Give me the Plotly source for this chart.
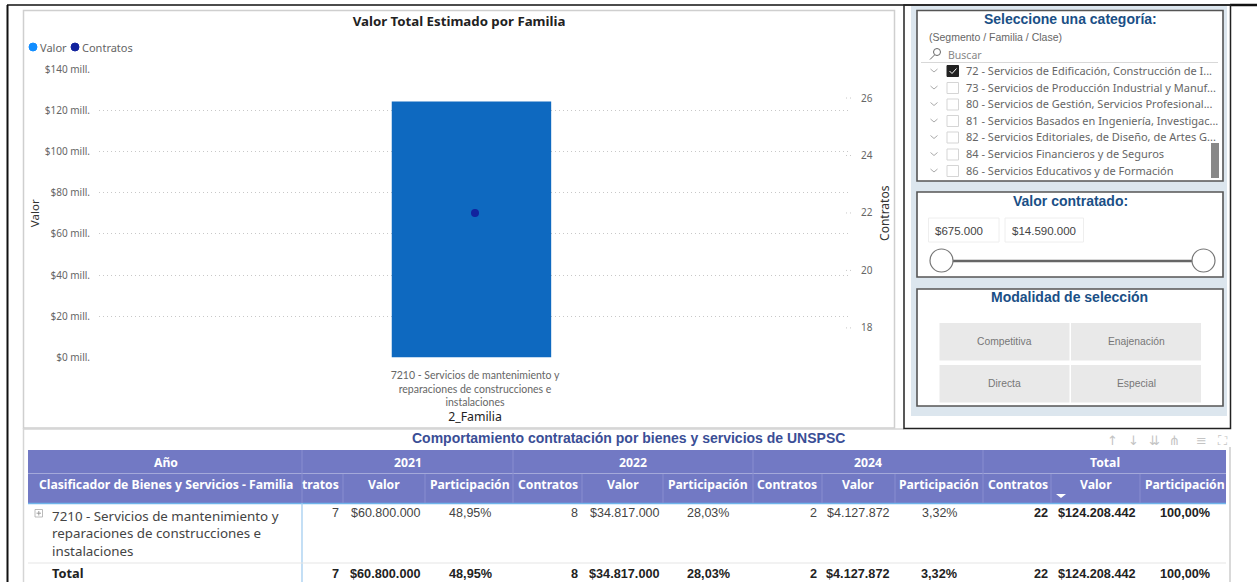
import plotly.graph_objects as go

# ---------- data ----------
familia_categoria = ["7210 - Servicios de mantenimiento y<br>reparaciones de construcciones e<br>instalaciones"]
valor_total_mill = [124.208442]
contratos_total = [22]
ticks_contratos = [18, 20, 22, 24, 26]

anios = ["2021", "2022", "2024", "Total"]
fila_familia = "7210 - Servicios de mantenimiento y<br>reparaciones de construcciones e<br>instalaciones"
contratos = ["7", "8", "2", "22"]
valores = ["$60.800.000", "$34.817.000", "$4.127.872", "$124.208.442"]
participacion = ["48,95%", "28,03%", "3,32%", "100,00%"]

categorias_slicer = [
    "72 - Servicios de Edificación, Construcción de I...",
    "73 - Servicios de Producción Industrial y Manuf...",
    "80 - Servicios de Gestión, Servicios Profesional...",
    "81 - Servicios Basados en Ingeniería, Investigac...",
    "82 - Servicios Editoriales, de Diseño, de Artes G...",
    "84 - Servicios Financieros y de Seguros",
    "86 - Servicios Educativos y de Formación",
]
modalidades = ["Competitiva", "Enajenación", "Directa", "Especial"]
rango_valor = ["$675.000", "$14.590.000"]

# ---------- layout helpers ----------
W, H = 1257, 582
UI = "Noto Sans"
AR = "Liberation Sans"
fx = lambda x: x / W
fy = lambda y: 1 - y / H
shapes, notes = [], []


def rect(x0, y0, x1, y1, fill=None, line=None, lw=1):
    shapes.append(dict(type="rect", xref="paper", yref="paper", x0=fx(x0), x1=fx(x1), y0=fy(y0), y1=fy(y1),
                       fillcolor=fill or "rgba(0,0,0,0)", line=dict(color=line or "rgba(0,0,0,0)", width=lw if line else 0)))


def seg(x0, y0, x1, y1, color, lw=1):
    shapes.append(dict(type="line", xref="paper", yref="paper", x0=fx(x0), x1=fx(x1), y0=fy(y0), y1=fy(y1),
                       line=dict(color=color, width=lw)))


def circ(cx, cy, r, fill, line, lw=1):
    shapes.append(dict(type="circle", xref="paper", yref="paper", x0=fx(cx - r), x1=fx(cx + r), y0=fy(cy + r), y1=fy(cy - r),
                       fillcolor=fill, line=dict(color=line, width=lw)))


def text(x, y, s, size=11, color="#444", font=UI, anchor="left", bold=False, angle=0):
    xa = "center" if anchor == "middle" else anchor
    notes.append(dict(xref="paper", yref="paper", x=fx(x), y=fy(y), text=f"<b>{s}</b>" if bold else s, showarrow=False,
                      xanchor=xa, yanchor="middle", align=xa,
                      font=dict(family=font, size=size, color=color), borderpad=0, borderwidth=0, textangle=angle))


# ---------- frames ----------
seg(7.5, 5, 7.5, 582, "#111", 2)
seg(7, 5, 1230, 5, "#111", 1.5)
seg(1230, 5, 1257, 5, "#111", 2.5)
rect(23.5, 10.5, 894.5, 428, None, "#cfcfcf", 1.5)
seg(23.5, 428, 23.5, 582, "#d5d5d5", 1.5)
seg(23.5, 429, 904, 429, "#d5d5d5", 1.5)
seg(1230, 447, 1230, 582, "#cccccc", 1.5)

# ---------- right panel ----------
rect(911, 6, 1227, 416, "#dce6ee")
rect(904, 5, 1230.5, 428.5, None, "#222", 1.5)
BOX = "#555"
for y0, y1 in [(10.5, 181), (192, 277), (289, 406)]:
    rect(917, y0, 1223, y1, "white", BOX, 1.6)

SL = "#1a4f86"
text(1070.5, 19, "Seleccione una categoría:", 14, SL, AR, "middle", True)
text(929, 37, "(Segmento / Familia / Clase)", 10.5, "#666", AR)
text(948, 54.5, "Buscar", 10.5, "#888")
circ(937, 52, 3.5, "white", "#666", 1)
seg(934.5, 55, 930, 59.5, "#666", 1)
seg(921, 62.5, 1218, 62.5, "#d8d8d8", 1)

ys = [71, 88, 104.5, 121, 137.5, 154.5, 171]
for i, (y, c) in enumerate(zip(ys, categorias_slicer)):
    seg(930.5, y - 2, 934, y + 1, "#aaa", 1)
    seg(934, y + 1, 937.5, y - 2, "#aaa", 1)
    if i == 0:
        rect(947, y - 5.5, 958.5, y + 5.5, "#222", "#222", 1)
        seg(949.5, y, 952, y + 2.5, "white", 1)
        seg(952, y + 2.5, 956.5, y - 2.5, "white", 1)
    else:
        rect(947, y - 5.5, 958.5, y + 5.5, "white", "#d5d5d5", 1)
    text(966, y - 0.7, c, 11, "#666")
rect(1211, 143, 1219, 178, "#888888")

text(1070, 201, "Valor contratado:", 14, SL, AR, "middle", True)
rect(928.5, 218, 999, 242, "white", "#eeeeee", 1)
rect(1005, 218, 1083.5, 242, "white", "#eeeeee", 1)
text(935, 231, rango_valor[0], 11.5, "#444", AR)
text(1012, 231, rango_valor[1], 11.5, "#444", AR)
seg(942, 261, 1204, 261, "#666", 2.5)
circ(941.5, 260.5, 11.5, "white", "#777", 1.2)
circ(1203.5, 260.5, 11.5, "white", "#777", 1.2)

text(1069, 297, "Modalidad de selección", 14, SL, AR, "middle", True)
for (x0, y0), m in zip([(939.5, 323), (1071, 323), (939.5, 365), (1071, 365)], modalidades):
    rect(x0, y0, x0 + 130, y0 + 37.5, "#e9e9e9")
    text(x0 + 65, y0 + 18.5, m, 10.3, "#777", AR, "middle")

# ---------- chart panel texts ----------
circ(33, 47, 4, "#118DFF", "#118DFF")
text(40, 47.5, "Valor", 11, "#666")
circ(75, 47, 4, "#12239E", "#12239E")
text(82, 47.5, "Contratos", 11, "#666")

# ---------- table ----------
HDR = "#7279c4"
rect(28, 450, 1226, 503, HDR)
seg(28, 473.5, 1226, 473.5, "#a4a9da", 1)
seg(28, 503.5, 1226, 503.5, "#6fb4ea", 1.5)
for x in [302, 513, 753, 983]:
    seg(x, 450, x, 503, "#888ed0", 1)
for x in [343, 425, 582, 663, 822, 895, 1051, 1140]:
    seg(x, 474, x, 503, "#888ed0", 1)
seg(302, 503, 302, 582, "#9cc9ef", 1.2)
seg(28, 563, 1226, 563, "#e5e5e5", 1)

text(629, 438, "Comportamiento contratación por bienes y servicios de UNSPSC", 14, "#3a4e96", AR, "middle", True)
TW = "#ffffff"
HS = 12.2
text(166, 462.5, "Año", HS, TW, UI, "middle", True)
for x, a in zip([408, 633, 868, 1105], anios):
    text(x, 462.5, a, HS, TW, UI, "middle", True)
text(166, 484.5, "Clasificador de Bienes y Servicios - Familia", HS, TW, UI, "middle", True)
text(339, 484.5, "tratos", HS, TW, UI, "right", True)
for xc, xv, xp in [(None, 384, 470), (548, 623, 708), (787, 858, 939), (1018, 1096, 1185)]:
    if xc:
        text(xc, 484.5, "Contratos", HS, TW, UI, "middle", True)
    text(xv, 484.5, "Valor", HS, TW, UI, "middle", True)
    text(xp, 484.5, "Participación", HS, TW, UI, "middle", True)
shapes.append(dict(type="path", xref="paper", yref="paper",
                   path=f"M {fx(1056)} {fy(494)} L {fx(1066)} {fy(494)} L {fx(1061)} {fy(498)} Z",
                   fillcolor="white", line=dict(width=0)))

rect(35, 509.5, 42.5, 517, "white", "#aaa", 0.8)
seg(36.5, 513.2, 41, 513.2, "#888", 0.8)
seg(38.8, 511, 38.8, 515.5, "#888", 0.8)
text(52, 533.5, fila_familia, 13.35, "#444")
text(52, 573.2, "Total", 12.8, "#222", UI, "left", True)

xcon = [339, 578, 817, 1048]
xval = [421, 660, 890, 1136]
xpar = [470, 708, 939, 1185]
for j, (xc, xv, xp, c, v, p) in enumerate(zip(xcon, xval, xpar, contratos, valores, participacion)):
    tot = j == 3
    s = 12.7 if tot else 12.5
    col = "#222" if tot else "#444"
    text(xc, 512.5, c, s, col, AR, "right", tot)
    text(xv, 512.5, v, s, col, AR, "right", tot)
    text(xp, 512.5, p, s, col, AR, "middle", tot)
    text(xc, 573.5, c, 12.7, "#222", AR, "right", True)
    text(xv, 573.5, v, 12.7, "#222", AR, "right", True)
    text(xp, 573.5, p, 12.7, "#222", AR, "middle", True)

# toolbar glyphs
for x, g in zip([1112, 1133, 1154, 1174, 1201, 1222], ["↑", "↓", "⇊", "⋔", "≡", "⛶"]):
    text(x, 440, g, 13, "#c4c4c4", "DejaVu Sans", "middle")

# small dotted stubs on the secondary axis
for t in ticks_contratos:
    shapes.append(dict(type="line", xref="paper", yref="y2", x0=fx(846), x1=fx(854), y0=t, y1=t,
                       line=dict(color="#c8c8c8", width=1, dash="1px,3px")))

# ---------- figure ----------
fig = go.Figure()
fig.add_trace(go.Bar(x=familia_categoria, y=valor_total_mill, name="Valor", marker=dict(color="#0E69C0", line=dict(width=0)),
                     width=0.212, offset=-0.1107, showlegend=False))
fig.add_trace(go.Scatter(x=familia_categoria, y=contratos_total, name="Contratos", mode="markers", yaxis="y2",
                         marker=dict(color="#12239E", size=8), showlegend=False))

fig.update_layout(
    template="none",
    width=W, height=H, autosize=False, margin=dict(l=0, r=0, t=0, b=0),
    paper_bgcolor="white", plot_bgcolor="rgba(0,0,0,0)", showlegend=False,
    title=dict(text="<b>Valor Total Estimado por Familia</b>", x=fx(459), xanchor="center", y=fy(21), yanchor="middle",
               font=dict(family=UI, size=13.25, color="#222")),
    xaxis=dict(domain=[fx(99), fx(851)], type="category", range=[-0.5, 0.5], showgrid=False, showline=False, automargin=False,
               zeroline=False, ticks="outside", ticklen=8, tickcolor="rgba(0,0,0,0)", tickangle=0,
               tickfont=dict(family="Lato", size=10.5, color="#666"),
               title=dict(text="2_Familia", font=dict(family=UI, size=12.3, color="#222"), standoff=3)),
    yaxis=dict(domain=[fy(357.5), fy(69)], range=[0, 140], dtick=20, tickprefix="$", ticksuffix=" mill.", automargin=False,
               showgrid=True, griddash="1px,3px", gridcolor="#c8c8c8", gridwidth=1, zeroline=False, showline=False,
               ticks="outside", ticklen=6, tickcolor="rgba(0,0,0,0)",
               tickfont=dict(family=UI, size=10, color="#666"),
               title=dict(text="Valor", font=dict(family=UI, size=11.5, color="#333"), standoff=2)),
    yaxis2=dict(domain=[fy(357.5), fy(69)], range=[16.97, 27.01], overlaying="y", side="right", tickvals=ticks_contratos,
                showgrid=False, zeroline=False, showline=False, ticks="outside", ticklen=7, tickcolor="rgba(0,0,0,0)", automargin=False,
                tickfont=dict(family=UI, size=10, color="#666"),
                title=dict(text="Contratos", font=dict(family=UI, size=12, color="#333"), standoff=8)),
    shapes=shapes, annotations=notes,
)
fig.write_html("out.html", config=dict(displayModeBar=False, responsive=False),
               post_script="document.body.style.margin='0';document.body.style.overflow='hidden';")
